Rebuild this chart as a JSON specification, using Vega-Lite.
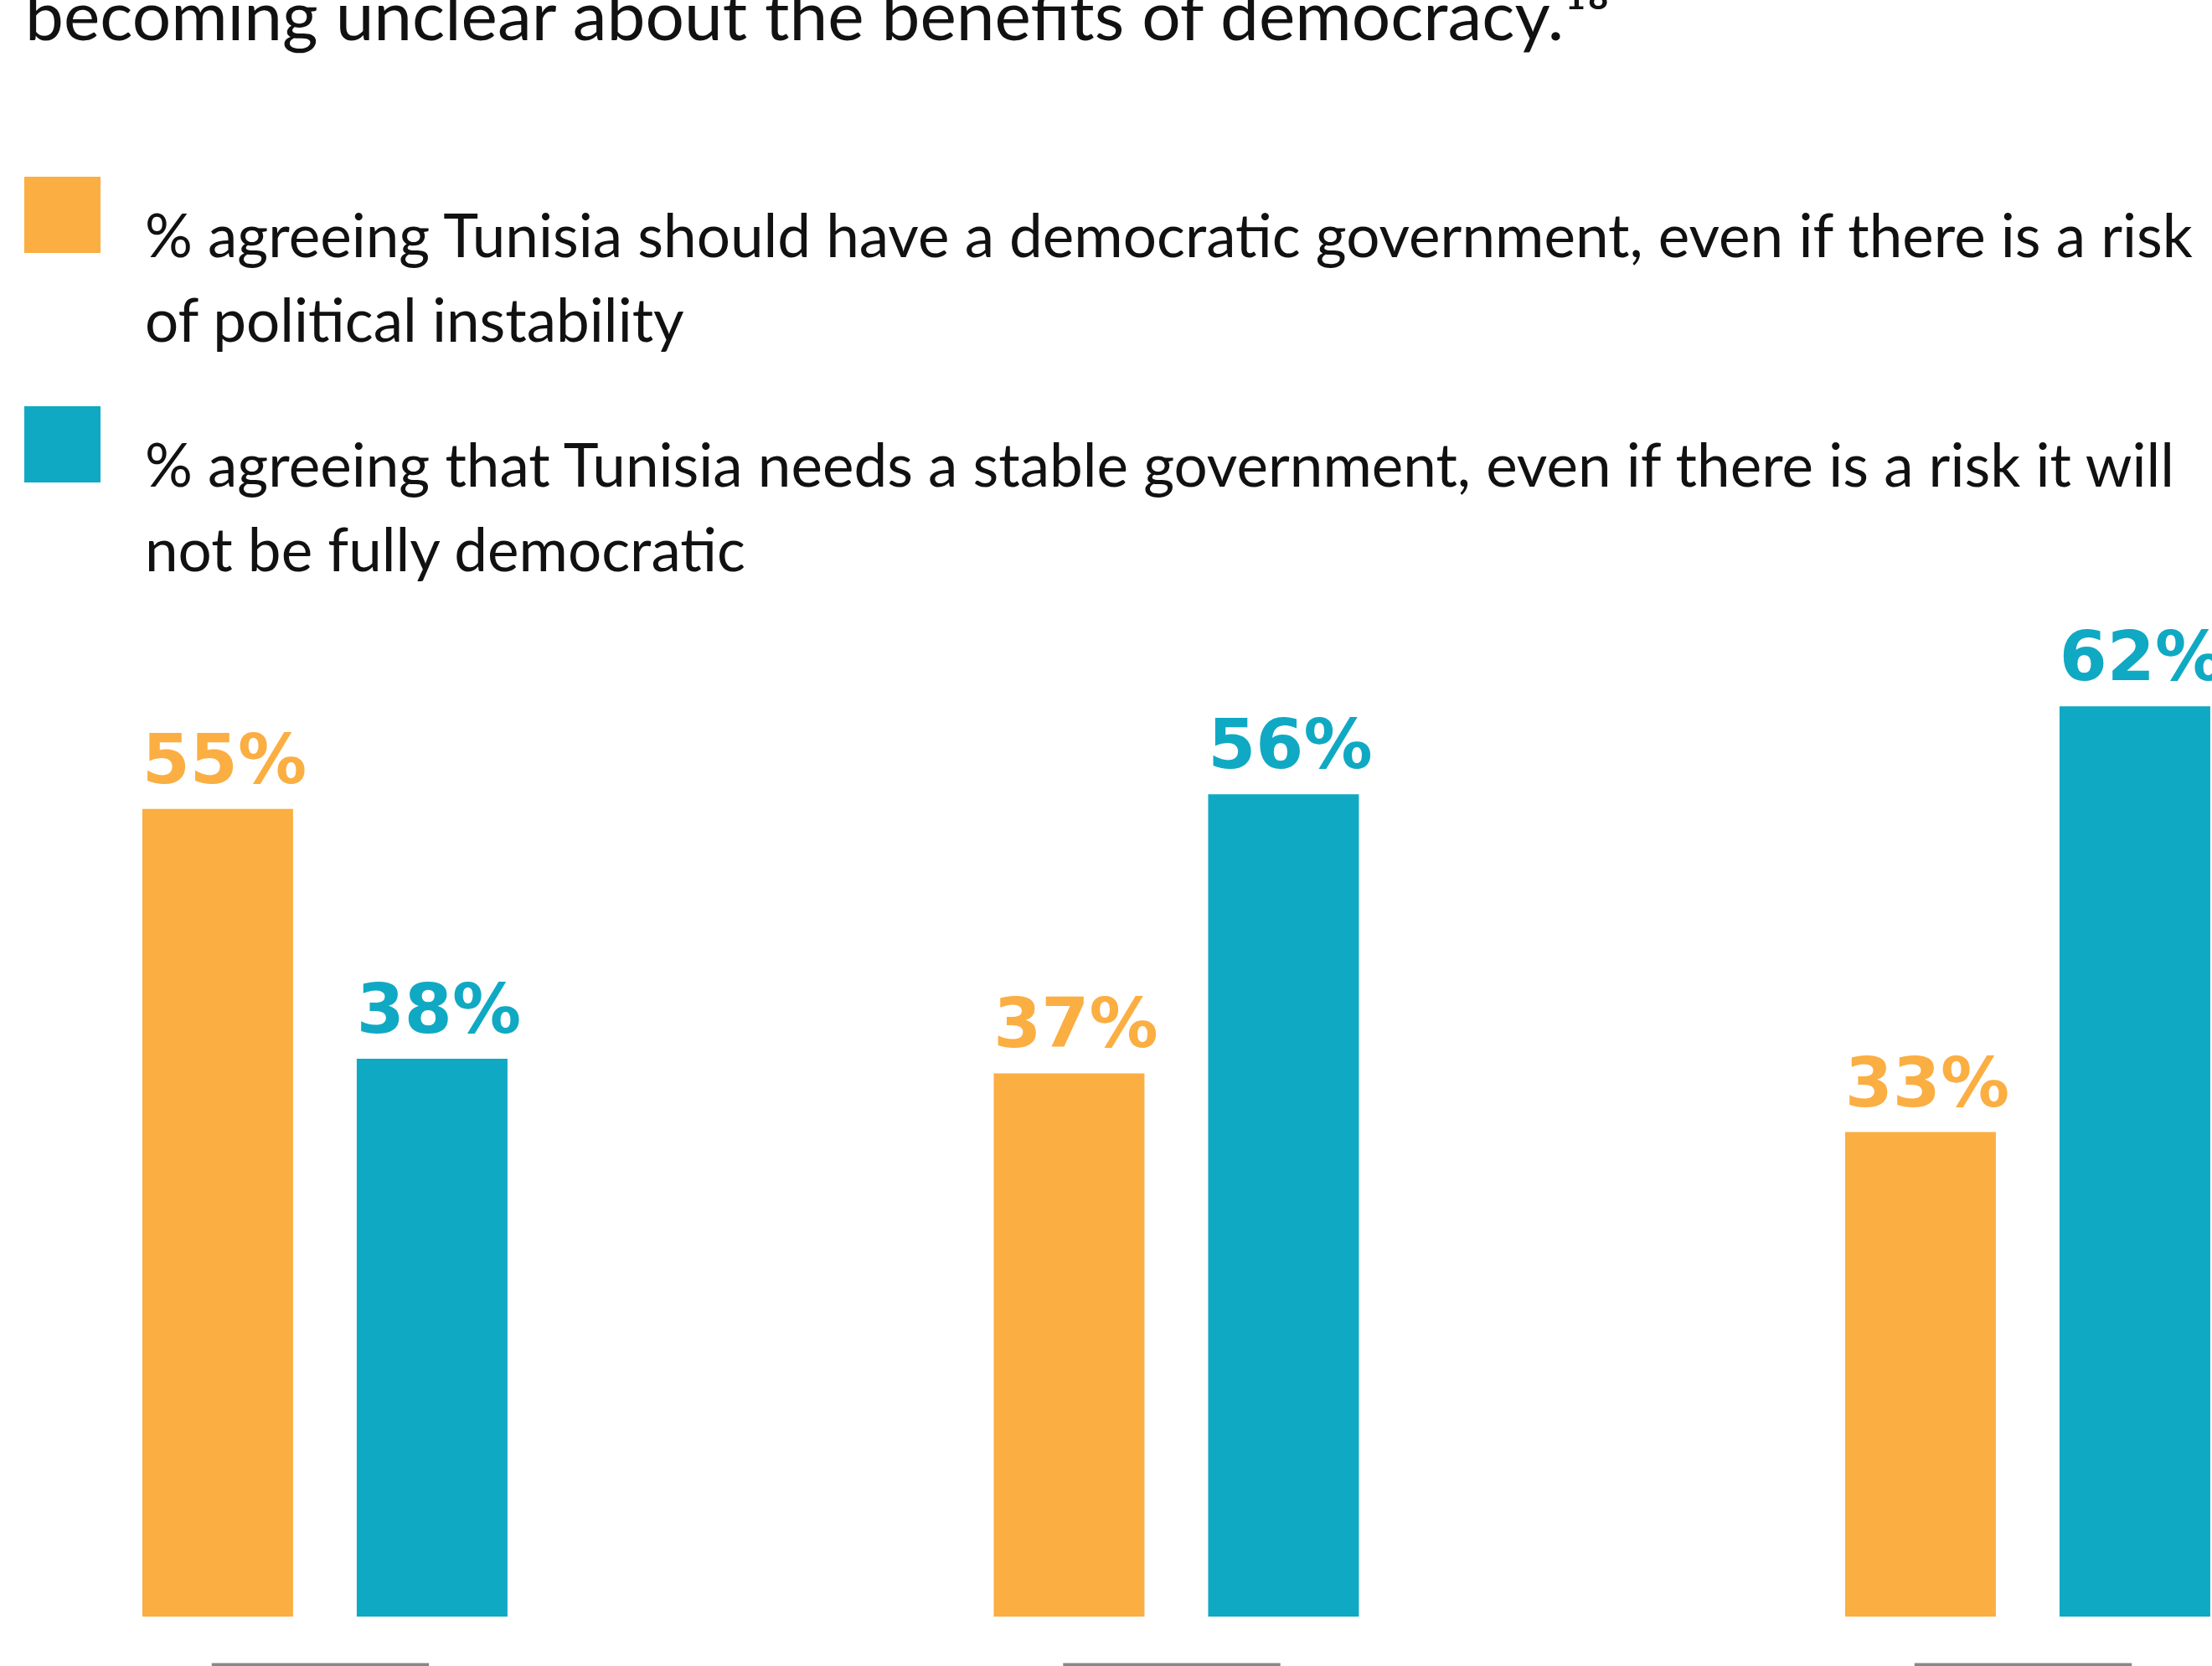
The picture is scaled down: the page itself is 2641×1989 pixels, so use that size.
{
  "$schema": "https://vega.github.io/schema/vega-lite/v6.json",
  "width": 2641,
  "height": 1989,
  "autosize": {"type": "none"},
  "padding": 0,
  "background": "white",
  "title": {
    "text": "becoming unclear about the benefits of democracy.¹⁸",
    "anchor": "start",
    "frame": "group",
    "orient": "top",
    "offset": -130,
    "dx": 30,
    "font": "Lato",
    "fontSize": 82,
    "fontWeight": "normal",
    "color": "#111111",
    "baseline": "alphabetic"
  },
  "datasets": {
    "bars": [
      {"group": "Group 1", "series": "democratic", "value": 55, "label": "55%"},
      {"group": "Group 1", "series": "stable", "value": 38, "label": "38%"},
      {"group": "Group 2", "series": "democratic", "value": 37, "label": "37%"},
      {"group": "Group 2", "series": "stable", "value": 56, "label": "56%"},
      {"group": "Group 3", "series": "democratic", "value": 33, "label": "33%"},
      {"group": "Group 3", "series": "stable", "value": 62, "label": "62%"}
    ],
    "groups": [{"group": "Group 1"}, {"group": "Group 2"}, {"group": "Group 3"}]
  },
  "config": {
    "view": {"stroke": null},
    "style": {"guide-label": {"lineHeight": 101, "dy": -6}}
  },
  "layer": [
    {
      "data": {"name": "bars"},
      "mark": {"type": "bar"},
      "encoding": {
        "x": {"field": "group", "type": "nominal", "axis": null,
              "scale": {"paddingInner": 0.5711, "paddingOuter": 0.0846, "align": 0.988}},
        "xOffset": {"field": "series", "type": "nominal",
                    "scale": {"paddingInner": 0.297, "paddingOuter": 0}},
        "y": {"field": "value", "type": "quantitative", "axis": null,
              "scale": {"domain": [-3.366, 110.1], "nice": false, "zero": false}},
        "y2": {"datum": 0},
        "color": {"field": "series", "type": "nominal",
                  "scale": {"domain": ["democratic", "stable"], "range": ["#FBAE42", "#10A9C3"]},
                  "legend": {
                    "title": null,
                    "orient": "none",
                    "legendX": 29,
                    "legendY": 211,
                    "padding": 0,
                    "symbolType": "square",
                    "symbolSize": 8281,
                    "symbolStrokeWidth": 0,
                    "symbolOpacity": 1,
                    "labelFont": "Lato",
                    "labelFontSize": 71,
                    "labelColor": "#111111",
                    "labelLimit": 0,
                    "labelOffset": 53,
                    "labelBaseline": "top",
                    "rowPadding": 63,
                    "labelExpr": "datum.label == 'democratic' ? ['% agreeing Tunisia should have a democratic government, even if there is a risk', 'of political instability'] : ['% agreeing that Tunisia needs a stable government, even if there is a risk it will', 'not be fully democratic']"
                  }}
      }
    },
    {
      "data": {"name": "bars"},
      "mark": {"type": "text", "dy": -31, "dx": 8, "font": "DejaVu Sans", "fontWeight": "bold", "fontSize": 82, "align": "center", "baseline": "alphabetic"},
      "encoding": {
        "x": {"field": "group", "type": "nominal"},
        "xOffset": {"field": "series", "type": "nominal"},
        "y": {"field": "value", "type": "quantitative"},
        "text": {"field": "label", "type": "nominal"},
        "color": {"field": "series", "type": "nominal", "legend": null}
      }
    },
    {
      "data": {"name": "groups"},
      "mark": {"type": "rule", "color": "#888888", "strokeWidth": 4},
      "encoding": {
        "x": {"field": "group", "type": "nominal", "bandPosition": 0.19},
        "x2": {"field": "group", "bandPosition": 0.785},
        "y": {"datum": -3.28}
      }
    }
  ]
}
